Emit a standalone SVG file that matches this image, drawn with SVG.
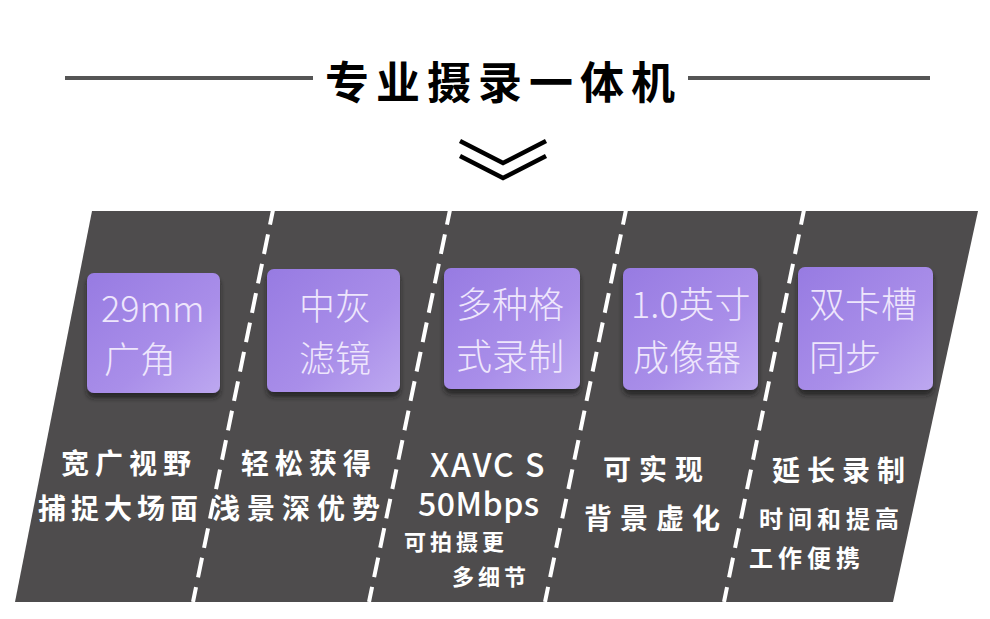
<svg xmlns="http://www.w3.org/2000/svg" width="990" height="619" viewBox="0 0 990 619">
<defs>
<linearGradient id="boxg" x1="0" y1="0" x2="1" y2="1">
<stop offset="0" stop-color="#977be2"/>
<stop offset="0.6" stop-color="#a98ee9"/>
<stop offset="1" stop-color="#bda8f0"/>
</linearGradient>
<filter id="sh" x="-10%" y="-10%" width="120%" height="130%">
<feDropShadow dx="0" dy="5" stdDeviation="2.5" flood-color="#1e1c1d" flood-opacity="0.75"/>
</filter>
<style>
.hl{stroke:#555;stroke-width:4}
.dash{stroke:#fff;stroke-width:4;stroke-dasharray:20 10;fill:none}
.box{fill:url(#boxg);filter:url(#sh)}
.bt{font-family:"Noto Sans CJK SC","Noto Sans",sans-serif;font-weight:300;font-size:36px;fill:#eee6fc}
.ft{font-family:"Noto Sans CJK SC","Noto Sans",sans-serif;font-weight:700;font-size:28px;fill:#fff}
.fs{font-family:"Noto Sans CJK SC","Noto Sans",sans-serif;font-weight:700;font-size:22px;fill:#fff}
.fm{font-family:"Noto Sans CJK SC","Noto Sans",sans-serif;font-weight:700;font-size:24px;fill:#fff}
.lat{font-family:"Noto Sans CJK SC","Noto Sans",sans-serif;font-weight:500;font-size:32px;fill:#fff}
.title{font-family:"Noto Sans CJK SC",sans-serif;font-weight:700;font-size:44px;fill:#000;letter-spacing:7px}
</style>
</defs>
<rect width="990" height="619" fill="#fff"/>
<g id="header">
<line class="hl" x1="65" y1="78" x2="313" y2="78"/>
<line class="hl" x1="688" y1="78" x2="930" y2="78"/>
<text class="title" x="325" y="99">专业摄录一体机</text>
<g fill="none" stroke="#000" stroke-width="4.5">
<polyline points="460,141 503,163 546,141"/>
<polyline points="460,156 503,178 546,156"/>
</g>
</g>
<polygon id="panel" points="92,211 978,211 893,602 15,602" fill="#4e4c4d"/>
<g id="connectors">
<line class="dash" x1="274" y1="205" x2="193" y2="602"/>
<line class="dash" x1="451" y1="205" x2="369" y2="602"/>
<line class="dash" x1="627" y1="205" x2="545" y2="602"/>
<line class="dash" x1="805" y1="205" x2="724" y2="602"/>
</g>
<g id="node1">
<rect class="box" x="87" y="273" width="133" height="120" rx="7"/>
<text class="bt" x="101" y="322">29mm</text>
<text class="bt" x="104" y="373">广角</text>
<text class="ft" x="61" y="474" letter-spacing="6">宽广视野</text>
<text class="ft" x="38" y="519" letter-spacing="5">捕捉大场面</text>
</g>
<g id="node2">
<rect class="box" x="267" y="269" width="133" height="123" rx="7"/>
<text class="bt" x="299" y="320">中灰</text>
<text class="bt" x="299" y="372">滤镜</text>
<text class="ft" x="241" y="474" letter-spacing="6">轻松获得</text>
<text class="ft" x="212" y="519" letter-spacing="7">浅景深优势</text>
</g>
<g id="node3">
<rect class="box" x="444" y="268" width="136" height="121" rx="7"/>
<text class="bt" x="456" y="318">多种格</text>
<text class="bt" x="456" y="370">式录制</text>
<text class="lat" x="430" y="477" letter-spacing="2">XAVC S</text>
<text class="lat" x="418" y="516" letter-spacing="0.5">50Mbps</text>
<text class="fs" x="404" y="550" letter-spacing="4">可拍摄更</text>
<text class="fs" x="452" y="585" letter-spacing="4">多细节</text>
</g>
<g id="node4">
<rect class="box" x="623" y="268" width="135" height="122" rx="7"/>
<text class="bt" x="631" y="318">1.0英寸</text>
<text class="bt" x="633" y="371">成像器</text>
<text class="ft" x="603" y="480" letter-spacing="8">可实现</text>
<text class="ft" x="584" y="529" letter-spacing="8">背景虚化</text>
</g>
<g id="node5">
<rect class="box" x="798" y="267" width="135" height="123" rx="7"/>
<text class="bt" x="809" y="318">双卡槽</text>
<text class="bt" x="809" y="371">同步</text>
<text class="ft" x="772" y="481" letter-spacing="7">延长录制</text>
<text class="fm" x="759" y="528" letter-spacing="5">时间和提高</text>
<text class="fm" x="749" y="567" letter-spacing="5">工作便携</text>
</g>
</svg>
